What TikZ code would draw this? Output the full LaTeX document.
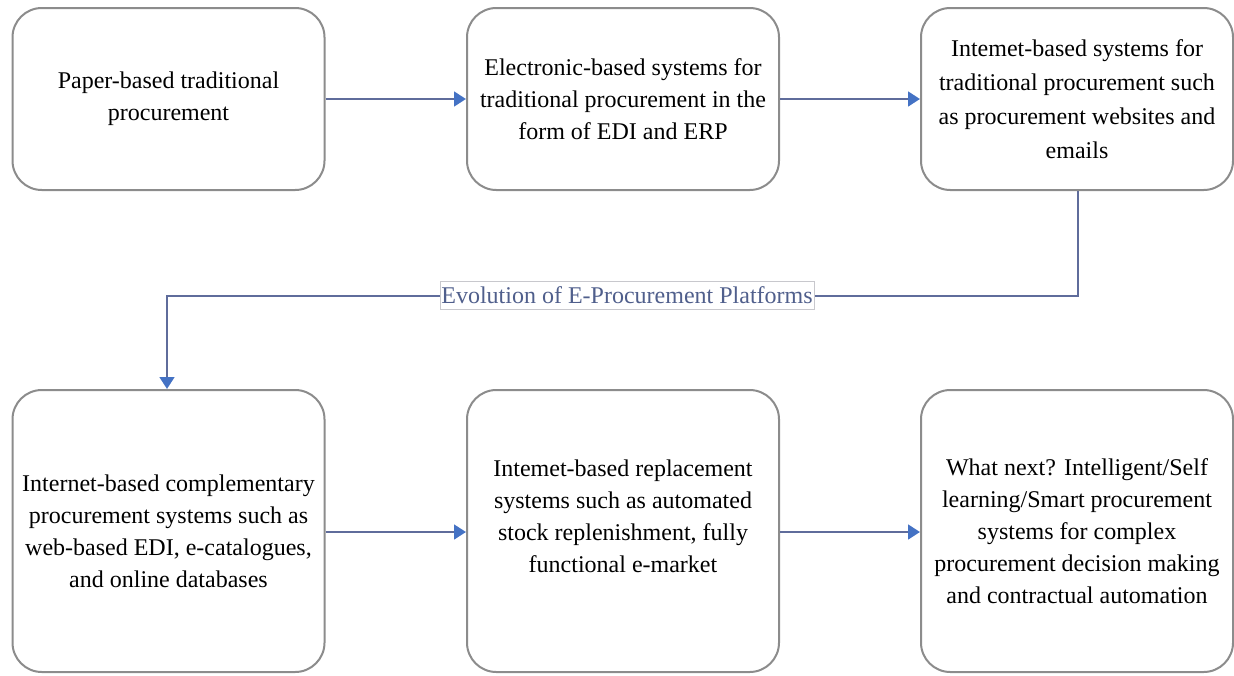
\documentclass[tikz,border=0pt]{standalone}
\usepackage{fontspec}
\setmainfont{Liberation Serif}
\usetikzlibrary{arrows.meta}
\definecolor{boxgray}{RGB}{140,140,140}
\definecolor{linec}{RGB}{95,108,155}
\definecolor{tipc}{RGB}{68,114,196}
\definecolor{labc}{RGB}{80,95,140}
\definecolor{labframe}{RGB}{200,200,205}
\begin{document}
\begin{tikzpicture}[x=0.75pt,y=-0.75pt,
  box/.style={draw=boxgray, line width=1.5pt, rounded corners=22pt, minimum width=234pt, inner sep=0pt, fill=white, align=center, font=\fontsize{18}{24}\selectfont},
  toprow/.style={box, minimum height=136.5pt},
  botrow/.style={box, minimum height=211.5pt},
  txt/.style={align=center, inner sep=0pt, font=\fontsize{18}{24}\selectfont},
  conn/.style={draw=linec, line width=2pt, -{Triangle[length=9pt,width=11pt,fill=tipc,color=tipc]}},
  lab/.style={draw=labframe, line width=0.6pt, fill=white, text=labc, inner xsep=1pt, inner ysep=4pt, font=\fontsize{18}{20}\selectfont}]
\useasboundingbox (0,0) rectangle (1234,675);
\node[toprow] (b1) at (168.5,99) {Paper-based traditional\\procurement};
\node[toprow] (b2) at (623,99) {Electronic-based systems for\\traditional procurement in the\\form of EDI and ERP};
\node[toprow, font=\fontsize{18}{25.5}\selectfont] (b3) at (1077,99) {Intemet-based systems for\\traditional procurement such\\as procurement websites and\\emails};
\node[botrow] (b4) at (168.5,531) {Internet-based complementary\\procurement systems such as\\web-based EDI, e-catalogues,\\and online databases};
\node[botrow] (b5) at (623,531) {};
\node[txt] (t5) at (623,516) {Intemet-based replacement\\systems such as automated\\stock replenishment, fully\\functional e-market};
\node[botrow] (b6) at (1077,531) {What next? Intelligent/Self\\learning/Smart procurement\\systems for complex\\procurement decision making\\and contractual automation};
\draw[conn] (b1.east |- 0,99) -- (b2.west |- 0,99);
\draw[conn] (b2.east |- 0,99) -- (b3.west |- 0,99);
\draw[conn] (b4.east |- 0,532) -- (b5.west |- 0,532);
\draw[conn] (b5.east |- 0,532) -- (b6.west |- 0,532);
\coordinate (c1) at (1078,296);
\coordinate (c2) at (167,296);
\draw[conn] (b3.south -| c1) -- (c1) -- (c2) -- (b4.north -| c2);
\node[lab] (evo) at (627,295) {Evolution of E-Procurement Platforms};
\end{tikzpicture}
\end{document}
